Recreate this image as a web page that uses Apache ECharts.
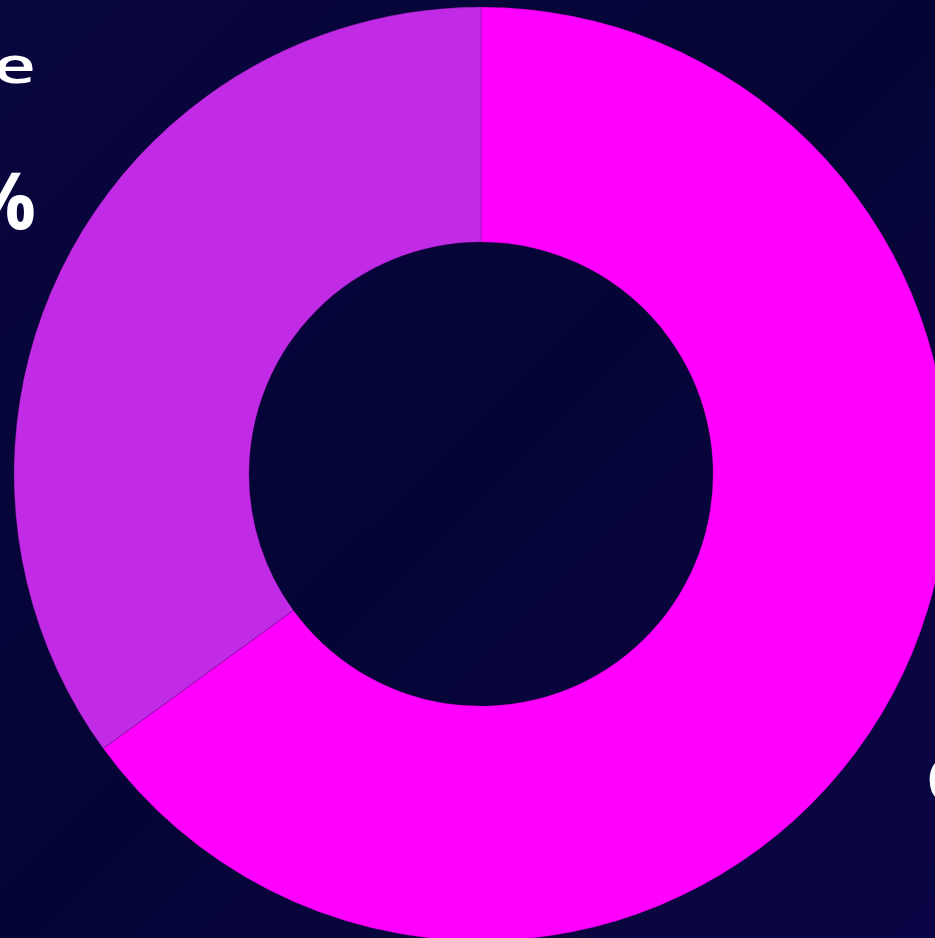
<!DOCTYPE html>
<html>
<head>
<meta charset="utf-8">
<script src="https://cdn.jsdelivr.net/npm/echarts@6/dist/echarts.min.js"></script>
<style>
html,body{margin:0;padding:0;background:#07053a;}
#chart{width:935px;height:938px;}
</style>
</head>
<body>
<div id="chart"></div>
<script>
const categories = ['Segment A', 'Segment B'];
const values = [65, 35];
const colors = ['#ff00ff', '#c12be6'];

const chart = echarts.init(document.getElementById('chart'));
chart.setOption({
  backgroundColor: {
    type: 'linear', x: 0, y: 0, x2: 1, y2: 1,
    colorStops: [
      { offset: 0, color: '#08063e' },
      { offset: 0.5, color: '#050436' },
      { offset: 1, color: '#0a0645' }
    ]
  },
  animation: false,
  graphic: [
    { type: 'group', x: 36, y: 0, scaleX: 1.5, children: [
      { type: 'text', style: { text: 'e', x: 0, y: 69, textAlign: 'right', textVerticalAlign: 'middle', fill: '#ffffff', font: '600 50px "Open Sans", sans-serif' } }
    ]},
    { type: 'text', style: { text: '%', x: 36, y: 207, textAlign: 'right', textVerticalAlign: 'middle', fill: '#ffffff', font: 'bold 78px "Open Sans", sans-serif' } },
    { type: 'text', style: { text: 'C', x: 926, y: 784, textAlign: 'left', textVerticalAlign: 'middle', fill: '#ffffff', font: 'bold 63px "Open Sans", sans-serif' } }
  ],
  series: [{
    type: 'pie',
    center: [481, 474],
    radius: [232, 467],
    startAngle: 90,
    clockwise: true,
    label: { show: false },
    labelLine: { show: false },
    emphasis: { disabled: true },
    itemStyle: { borderColor: 'rgba(80,0,90,0.5)', borderWidth: 0.5 },
    data: categories.map((c, i) => ({ name: c, value: values[i], itemStyle: { color: colors[i] } }))
  }]
});
</script>
</body>
</html>
